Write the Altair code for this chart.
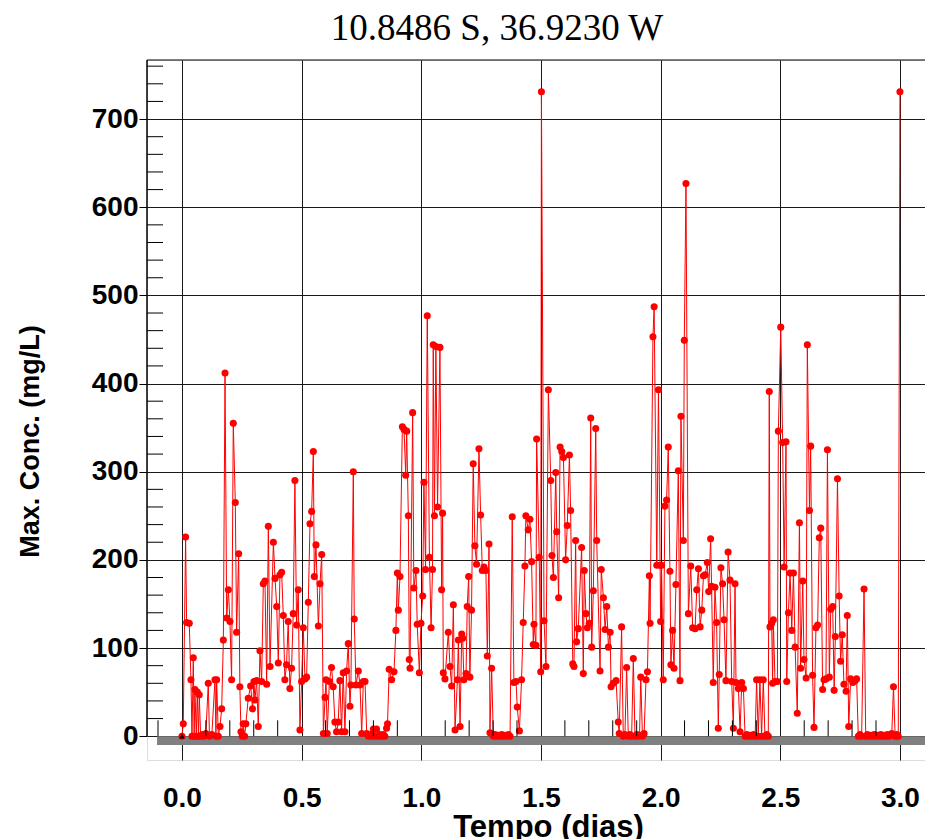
import altair as alt
import pandas as pd

TITLE = "10.8486 S, 36.9230 W"
X_TITLE = "Tempo (dias)"
Y_TITLE = "Max. Conc. (mg/L)"

TIME = [
    0.000, 0.0056, 0.0153, 0.0195, 0.0306, 0.0376, 0.0420, 0.0474, 0.0510, 0.0543,
    0.0600, 0.0640, 0.0690, 0.0724, 0.0780, 0.0850, 0.0920, 0.1000, 0.1100, 0.1150,
    0.1250, 0.1380, 0.1420, 0.1450, 0.1520, 0.1590, 0.1660, 0.1730, 0.1800, 0.1870,
    0.1940, 0.2006, 0.2075, 0.2145, 0.2230, 0.2284, 0.2370, 0.2420, 0.2466, 0.2520,
    0.2560, 0.2620, 0.2670, 0.2770, 0.2870, 0.2950, 0.3010, 0.3050, 0.3120, 0.3190,
    0.3260, 0.3330, 0.3400, 0.3470, 0.3540, 0.3610, 0.3680, 0.3820, 0.3890, 0.3960,
    0.4026, 0.4095, 0.4165, 0.4235, 0.4300, 0.4370, 0.4440, 0.4510, 0.4580, 0.4650,
    0.4720, 0.4790, 0.4860, 0.4930, 0.5000, 0.5070, 0.5140, 0.5210, 0.5280, 0.5350,
    0.5420, 0.5490, 0.5530, 0.5600, 0.5700, 0.5770, 0.5840, 0.5910, 0.5980, 0.6020,
    0.6070, 0.6160, 0.6250, 0.6320, 0.6390, 0.6460, 0.6530, 0.6600, 0.6670, 0.6740,
    0.6810, 0.6880, 0.6950, 0.7020, 0.7060, 0.7160, 0.7200, 0.7270, 0.7370, 0.7440,
    0.7510, 0.7580, 0.7650, 0.7720, 0.7790, 0.7860, 0.7930, 0.8000, 0.8070, 0.8130,
    0.8200, 0.8270, 0.8340, 0.8410, 0.8480, 0.8550, 0.8590, 0.8660, 0.8760, 0.8860,
    0.8940, 0.9000, 0.9040, 0.9110, 0.9210, 0.9280, 0.9350, 0.9390, 0.9460, 0.9500,
    0.9530, 0.9640, 0.9690, 0.9780, 0.9830, 0.9920, 0.9987, 1.0060, 1.0110, 1.0180,
    1.0250, 1.0340, 1.0410, 1.0470, 1.0500, 1.0550, 1.0610, 1.0680, 1.0780, 1.0850,
    1.0890, 1.0920, 1.0990, 1.1130, 1.1200, 1.1270, 1.1340, 1.1410, 1.1510, 1.1550,
    1.1620, 1.1690, 1.1730, 1.1780, 1.1870, 1.1920, 1.1980, 1.2030, 1.2100, 1.2170,
    1.2240, 1.2310, 1.2410, 1.2480, 1.2550, 1.2620, 1.2700, 1.2760, 1.2830, 1.2870,
    1.2940, 1.3010, 1.3080, 1.3150, 1.3220, 1.3290, 1.3360, 1.3430, 1.3500, 1.3570,
    1.3640, 1.3710, 1.3800, 1.3870, 1.3960, 1.4010, 1.4100, 1.4190, 1.4260, 1.4330,
    1.4370, 1.4470, 1.4540, 1.4610, 1.4680, 1.4710, 1.4790, 1.4820, 1.4930, 1.4990,
    1.5020, 1.5130, 1.5210, 1.5310, 1.5410, 1.5460, 1.5520, 1.5620, 1.5660, 1.5740,
    1.5800, 1.5870, 1.5940, 1.6030, 1.6100, 1.6190, 1.6240, 1.6330, 1.6380, 1.6450,
    1.6490, 1.6560, 1.6700, 1.6770, 1.6810, 1.6880, 1.6940, 1.7020, 1.7080, 1.7120,
    1.7190, 1.7290, 1.7330, 1.7470, 1.7520, 1.7610, 1.7680, 1.7750, 1.7820, 1.7890,
    1.7930, 1.8020, 1.8140, 1.8230, 1.8270, 1.8370, 1.8440, 1.8510, 1.8580, 1.8650,
    1.8720, 1.8790, 1.8860, 1.8930, 1.9000, 1.9070, 1.9120, 1.9170, 1.9240, 1.9310,
    1.9390, 1.9450, 1.9530, 1.9560, 1.9680, 1.9730, 1.9840, 1.9910, 1.9980, 2.0000,
    2.0040, 2.0110, 2.0180, 2.0250, 2.0320, 2.0390, 2.0430, 2.0500, 2.0560, 2.0640,
    2.0740, 2.0810, 2.0850, 2.0950, 2.0990, 2.1060, 2.1160, 2.1260, 2.1340, 2.1440,
    2.1510, 2.1580, 2.1650, 2.1720, 2.1790, 2.1860, 2.1950, 2.2010, 2.2090, 2.2130,
    2.2200, 2.2270, 2.2340, 2.2410, 2.2450, 2.2520, 2.2590, 2.2650, 2.2730, 2.2820,
    2.2900, 2.2970, 2.3040, 2.3110, 2.3150, 2.3250, 2.3320, 2.3390, 2.3460, 2.3530,
    2.3600, 2.3670, 2.3740, 2.3810, 2.3880, 2.3950, 2.4010, 2.4080, 2.4150, 2.4220,
    2.4290, 2.4360, 2.4430, 2.4500, 2.4540, 2.4570, 2.4640, 2.4680, 2.4710, 2.4780,
    2.4880, 2.4920, 2.5020, 2.5100, 2.5160, 2.5240, 2.5270, 2.5340, 2.5410, 2.5480,
    2.5550, 2.5620, 2.5710, 2.5800, 2.5850, 2.5940, 2.5990, 2.6080, 2.6130, 2.6220,
    2.6270, 2.6350, 2.6410, 2.6490, 2.6560, 2.6630, 2.6690, 2.6770, 2.6830, 2.6910,
    2.6970, 2.7050, 2.7110, 2.7190, 2.7250, 2.7300, 2.7390, 2.7460, 2.7520, 2.7590,
    2.7660, 2.7750, 2.7800, 2.7860, 2.7940, 2.8030, 2.8120, 2.8190, 2.8260, 2.8330,
    2.8400, 2.8500, 2.8570, 2.8640, 2.8710, 2.8780, 2.8850, 2.8920, 2.8990, 2.9060,
    2.9130, 2.9200, 2.9270, 2.9340, 2.9410, 2.9480, 2.9550, 2.9660, 2.9730, 2.9800,
    2.9870, 2.9930, 3.0000,
]

CONC = [
    0, 14, 226, 129, 128, 64, 0, 89, 0, 53,
    0, 50, 0, 47, 0, 2, 0, 3, 60, 0,
    2, 64, 0, 64, 0, 11, 31, 109, 412, 134,
    166, 130, 64, 355, 265, 118, 207, 56, 5, 0,
    14, 0, 14, 43, 57, 31, 62, 41, 63, 11,
    97, 62, 173, 176, 59, 238, 79, 220, 179, 147,
    83, 183, 186, 137, 64, 81, 130, 54, 77, 139,
    290, 126, 166, 7, 62, 123, 65, 67, 152, 241,
    255, 323, 181, 217, 125, 173, 206, 3, 44, 64,
    3, 62, 78, 56, 16, 5, 16, 63, 5, 72,
    5, 74, 105, 34, 58, 300, 133, 58, 74, 58,
    3, 62, 62, 3, 0, 2, 0, 8, 0, 8,
    0, 2, 0, 2, 0, 9, 14, 76, 64, 73,
    120, 185, 143, 181, 351, 348, 296, 346, 250, 87,
    77, 367, 168, 188, 127, 72, 128, 159, 288, 189,
    477, 203, 123, 189, 444, 250, 442, 260, 441, 166,
    253, 72, 65, 118, 79, 57, 149, 7, 64, 109,
    11, 116, 111, 64, 71, 147, 181, 67, 143, 309,
    216, 195, 326, 251, 188, 192, 188, 91, 218, 4,
    77, 0, 2, 0, 1, 0, 2, 0, 1, 0,
    2, 0, 249, 61, 62, 33, 6, 64, 129, 193,
    250, 234, 246, 198, 104, 127, 103, 337, 203, 73,
    731, 131, 79, 393, 290, 205, 180, 299, 232, 157,
    328, 323, 316, 200, 239, 319, 256, 82, 79, 222,
    107, 122, 214, 71, 188, 139, 123, 128, 361, 101,
    165, 349, 222, 74, 189, 157, 121, 147, 101, 118,
    56, 60, 63, 16, 3, 124, 0, 2, 78, 0,
    2, 0, 88, 0, 2, 0, 1, 67, 0, 3,
    64, 73, 182, 128, 453, 487, 194, 393, 194, 130,
    194, 64, 261, 268, 328, 187, 81, 120, 77, 172,
    301, 63, 363, 222, 449, 627, 139, 193, 123, 122,
    166, 190, 124, 143, 182, 183, 197, 164, 224, 170,
    61, 169, 129, 9, 70, 191, 173, 132, 63, 209,
    177, 62, 9, 173, 61, 54, 5, 61, 54, 0,
    2, 0, 1, 0, 2, 0, 64, 0, 64, 0,
    64, 0, 2, 0, 391, 124, 128, 60, 132, 62,
    62, 346, 464, 333, 192, 334, 62, 140, 185, 120,
    185, 101, 26, 242, 77, 176, 87, 66, 444, 256,
    329, 69, 10, 123, 126, 225, 236, 53, 64, 65,
    325, 67, 144, 147, 52, 113, 292, 159, 85, 115,
    59, 51, 137, 11, 65, 61, 63, 65, 0, 2,
    0, 167, 0, 2, 0, 1, 0, 2, 0, 1,
    0, 2, 0, 1, 0, 2, 0, 3, 56, 0,
    2, 0, 731,
]

X_TICKS = [0.0, 0.5, 1.0, 1.5, 2.0, 2.5, 3.0]
Y_TICKS = [0, 100, 200, 300, 400, 500, 600, 700]
X_MINOR = [-0.1, 0.1, 0.2, 0.3, 0.4, 0.6, 0.7, 0.8, 0.9, 1.1, 1.2, 1.3, 1.4,
           1.6, 1.7, 1.8, 1.9, 2.1, 2.2, 2.3, 2.4, 2.6, 2.7, 2.8, 2.9]
Y_MINOR = [20, 40, 60, 80, 120, 140, 160, 180, 220, 240, 260, 280, 320, 340,
           360, 380, 420, 440, 460, 480, 520, 540, 560, 580, 620, 640, 660, 680,
           720, 740, 760]
X_DOMAIN = [-0.146, 3.1047]
Y_DOMAIN = [-27, 767]
BASE_BAR_X = [-0.104, 3.2]
BASE_BAR_Y = [0, -10]
MINOR_LEN = 18

W, H = 778, 700

xs = alt.Scale(domain=X_DOMAIN, nice=False, zero=False)
ys = alt.Scale(domain=Y_DOMAIN, nice=False, zero=False)

series = pd.DataFrame({"t": TIME, "c": CONC})

x_axis = alt.Axis(
    values=X_TICKS, format=".1f", grid=True, gridColor="#000000", gridOpacity=0.9,
    gridWidth=1, domain=False, ticks=False, tickSize=0, labelPadding=24,
    labelFont="Liberation Sans", labelFontSize=28, labelFontWeight="bold",
    labelColor="#000000", labelFlush=False, labelOverlap=False,
    title=X_TITLE, titleFont="Liberation Sans", titleFontSize=31, titleFontWeight="bold",
    titleColor="#000000", titleX=401, titleY=76, titleAlign="center",
    titleBaseline="alphabetic",
)
y_axis = alt.Axis(
    values=Y_TICKS, format="d", grid=True, gridColor="#000000", gridOpacity=0.9,
    gridWidth=1, domain=False, ticks=True, tickSize=8, tickColor="#000000",
    labelPadding=1, labelFont="Liberation Sans", labelFontSize=28, labelFontWeight="bold",
    labelColor="#000000", labelFlush=False, labelOverlap=False,
    title=Y_TITLE, titleFont="Liberation Sans", titleFontSize=27, titleFontWeight="bold",
    titleColor="#000000", titleAngle=270, titleX=-117, titleY=381,
    titleAlign="center", titleBaseline="middle",
)


def X(field):
    return alt.X(field, scale=xs, axis=x_axis)


def Y(field):
    return alt.Y(field, scale=ys, axis=y_axis)


bar = alt.Chart(pd.DataFrame({"x0": [BASE_BAR_X[0]], "x1": [BASE_BAR_X[1]],
                              "y0": [BASE_BAR_Y[0]], "y1": [BASE_BAR_Y[1]]})).mark_rect(
    color="#808080", clip=True
).encode(x=X("x0:Q"), x2="x1:Q", y=Y("y0:Q"), y2="y1:Q")

line = alt.Chart(series).mark_line(color="#ff0000", strokeWidth=1, clip=True).encode(
    x=X("t:Q"), y=Y("c:Q"), order="t:Q",
)

pts = alt.Chart(series).mark_circle(color="#ff0000", size=50, opacity=1, clip=True).encode(
    x=X("t:Q"), y=Y("c:Q"),
)

ymin = alt.Chart(pd.DataFrame({"v": Y_MINOR})).mark_rule(color="#000000", strokeWidth=1).encode(
    y=Y("v:Q"), x=alt.value(0), x2=alt.value(16)
)

xmin = alt.Chart(pd.DataFrame({"t": X_MINOR, "a": [0] * len(X_MINOR),
                               "b": [MINOR_LEN] * len(X_MINOR)})).mark_rule(
    color="#000000", strokeWidth=1, clip=True
).encode(x=X("t:Q"), y=Y("a:Q"), y2="b:Q")

frame_df = pd.DataFrame({"k": [0]})
top_border = alt.Chart(frame_df).mark_rule(color="#000000", strokeWidth=1).encode(
    x=alt.value(0), x2=alt.value(W), y=alt.value(0)
)
left_border = alt.Chart(frame_df).mark_rule(color="#000000", strokeWidth=1.5).encode(
    x=alt.value(0), y=alt.value(0), y2=alt.value(676)
)

origin = alt.Chart(pd.DataFrame({"t": [TIME[0]], "c": [CONC[0]]})).mark_point(
    shape="triangle-up", filled=True, color="#000000", size=30, opacity=1
).encode(x=X("t:Q"), y=Y("c:Q"))

chart = alt.layer(bar, line, pts, ymin, xmin, top_border, left_border, origin).properties(
    width=W, height=H,
    autosize=alt.AutoSizeParams(type="none"),
    padding={"left": 139, "top": 52, "right": 0, "bottom": 79},
    title=alt.TitleParams(
        text=TITLE, font="Liberation Serif", fontSize=37, fontWeight="normal",
        color="#000000", anchor="middle", frame="group", dx=-39, offset=11,
    ),
).configure_view(stroke=None).configure(background="#ffffff")

chart.save("out.html", embed_options={"renderer": "svg", "actions": False})
